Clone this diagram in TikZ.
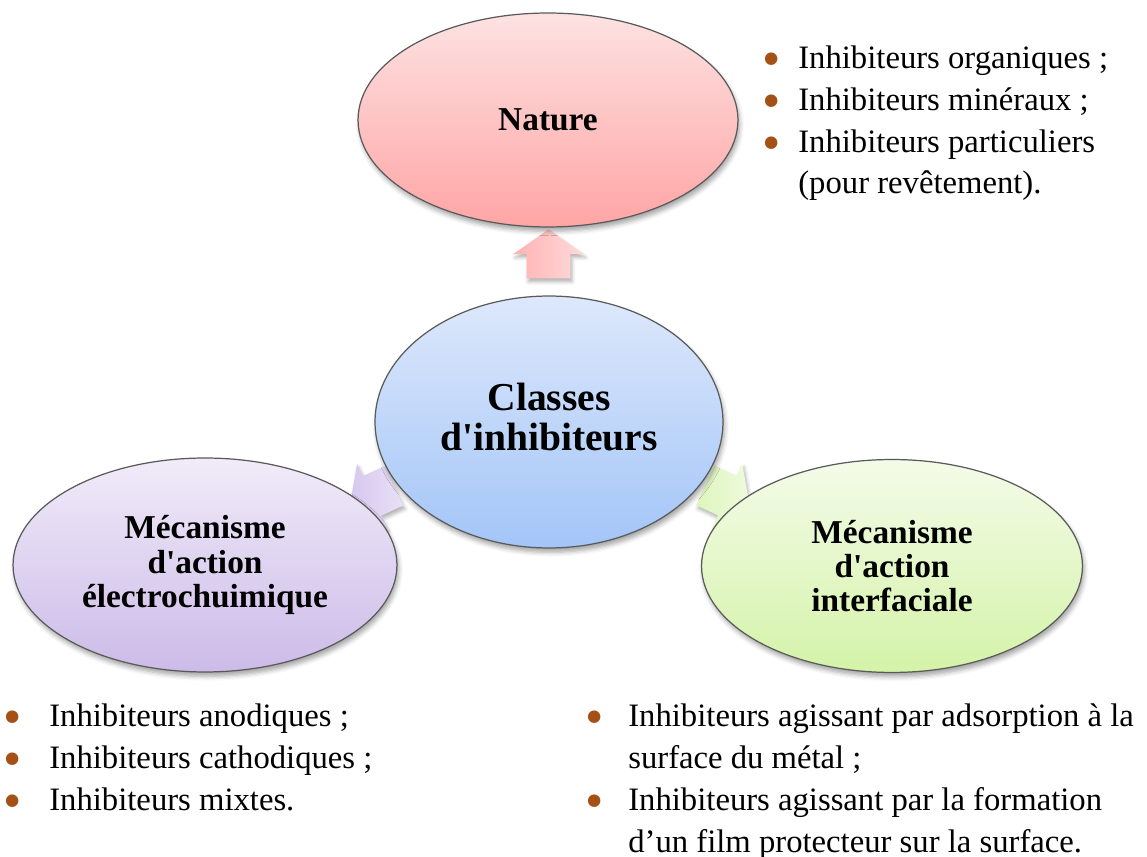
\documentclass[tikz,border=0pt]{standalone}
\usepackage{fontspec}
\setmainfont{Liberation Serif}
\usepackage{xcolor}
\usetikzlibrary{positioning,calc,backgrounds,shapes.geometric,shapes.arrows,shadows.blur}

\definecolor{bordure}{RGB}{90,90,90}
\definecolor{puceBrun}{RGB}{165,80,20}
\definecolor{natureHaut}{RGB}{253,226,226}
\definecolor{natureBas}{RGB}{255,165,165}
\definecolor{centreHaut}{RGB}{221,232,251}
\definecolor{centreBas}{RGB}{163,197,248}
\definecolor{electroHaut}{RGB}{241,235,249}
\definecolor{electroBas}{RGB}{204,187,232}
\definecolor{interfHaut}{RGB}{244,251,233}
\definecolor{interfBas}{RGB}{212,243,168}

\newcommand{\puce}[1]{\makebox[#1][l]{\textcolor{puceBrun}{\raisebox{-0.27em}[0pt][0pt]{\scalebox{1.6}{\textbullet}}}}}

\begin{document}
\begin{tikzpicture}[
  x=0.02cm, y=-0.02cm,
  classe/.style={ellipse, draw=bordure, line width=0.7pt, inner sep=0pt, align=center,
    font=\bfseries\fontsize{19}{19.5}\selectfont,
    blur shadow={shadow xshift=1pt, shadow yshift=-2.5pt, shadow blur radius=2.5pt, shadow opacity=35}},
  fleche/.style={single arrow, draw=none, inner xsep=0pt, inner ysep=0.43cm, minimum height=0.98cm,
    single arrow head extend=0.27cm, single arrow tip angle=110,
    blur shadow={shadow xshift=1pt, shadow yshift=-2pt, shadow blur radius=2pt, shadow opacity=30}},
  liste/.style={anchor=north west, inner sep=0pt, align=left, font=\fontsize{18.6}{23.9}\selectfont}
]
\useasboundingbox (0,0) rectangle (1147,857);

% les quatre classes
\node[classe, minimum width=6.96cm, minimum height=5.04cm, top color=centreHaut, bottom color=centreBas,
  font=\bfseries\fontsize{22.5}{22.8}\selectfont, text depth=0.2cm] (centre) at (549,422) {Classes\\d\textquotesingle inhibiteurs};
\node[classe, minimum width=7.6cm, minimum height=4.28cm, top color=natureHaut, bottom color=natureBas] (nature) at (548,120) {Nature};
\node[classe, minimum width=7.68cm, minimum height=4.28cm, top color=electroHaut, bottom color=electroBas] (electro) at (205,565) {Mécanisme\\d\textquotesingle action\\électrochuimique};
\node[classe, minimum width=7.62cm, minimum height=4.26cm, top color=interfHaut, bottom color=interfBas] (interf) at (892,566) {Mécanisme\\d\textquotesingle action\\interfaciale};

% fleches
\begin{scope}[on background layer]
\node[fleche, rotate=90, left color={rgb,255:red,255;green,178;blue,178}, right color={rgb,255:red,255;green,218;blue,218}]
  (versNature) at ($(centre.north)!0.5!(nature.south)$) {};
\node[fleche, rotate=205, left color={rgb,255:red,214;green,198;blue,238}, right color={rgb,255:red,233;green,225;blue,246}]
  (versElectro) at ($(centre.202.6)!0.5!(electro.22.6)$) {};
\node[fleche, rotate=-25, left color={rgb,255:red,222;green,245;blue,190}, right color={rgb,255:red,238;green,251;blue,220}]
  (versInterf) at ($(centre.-22.6)!0.5!(interf.157.4)$) {};
\end{scope}

% listes
\node[liste] (listeNature) at (762,45) {\puce{0.72cm}Inhibiteurs organiques ;\\
  \puce{0.72cm}Inhibiteurs minéraux ;\\
  \puce{0.72cm}Inhibiteurs particuliers\\
  \hspace*{0.72cm}(pour revêtement).};
\node[liste] (listeElectro) at (3,703) {\puce{0.92cm}Inhibiteurs anodiques ;\\
  \puce{0.92cm}Inhibiteurs cathodiques ;\\
  \puce{0.92cm}Inhibiteurs mixtes.};
\node[liste] (listeInterf) at (585,703) {\puce{0.86cm}Inhibiteurs agissant par adsorption à la\\
  \hspace*{0.86cm}surface du métal ;\\
  \puce{0.86cm}Inhibiteurs agissant par la formation\\
  \hspace*{0.86cm}d’un film protecteur sur la surface.};

\end{tikzpicture}
\end{document}
